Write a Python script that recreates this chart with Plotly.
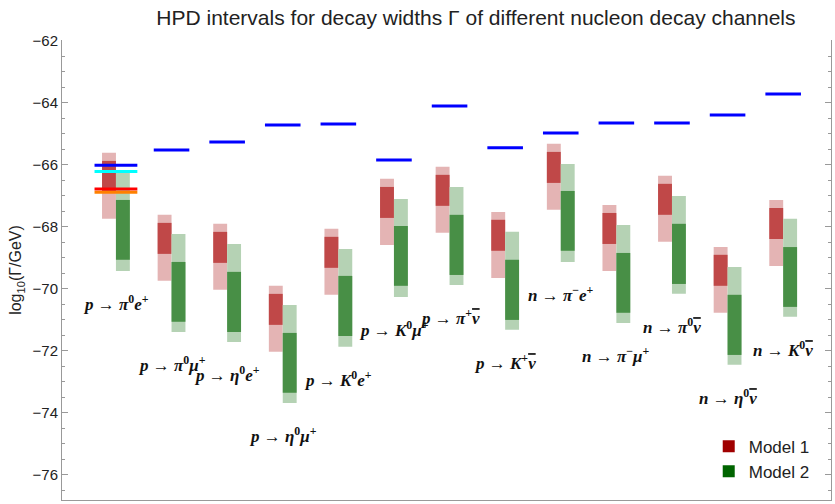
import plotly.graph_objects as go

# ---------------- data ----------------
NUBAR = "<span style='text-decoration:overline'><i>ν</i></span>"
channels = [
    "<i>p</i> → <i>π</i><sup>0</sup><i>e</i><sup>+</sup>",
    "<i>p</i> → <i>π</i><sup>0</sup><i>μ</i><sup>+</sup>",
    "<i>p</i> → <i>η</i><sup>0</sup><i>e</i><sup>+</sup>",
    "<i>p</i> → <i>η</i><sup>0</sup><i>μ</i><sup>+</sup>",
    "<i>p</i> → <i>K</i><sup>0</sup><i>e</i><sup>+</sup>",
    "<i>p</i> → <i>K</i><sup>0</sup><i>μ</i><sup>+</sup>",
    "<i>p</i> → <i>π</i><sup>+</sup>" + NUBAR,
    "<i>p</i> → <i>K</i><sup>+</sup>" + NUBAR,
    "<i>n</i> → <i>π</i><sup>−</sup><i>e</i><sup>+</sup>",
    "<i>n</i> → <i>π</i><sup>−</sup><i>μ</i><sup>+</sup>",
    "<i>n</i> → <i>π</i><sup>0</sup>" + NUBAR,
    "<i>n</i> → <i>η</i><sup>0</sup>" + NUBAR,
    "<i>n</i> → <i>K</i><sup>0</sup>" + NUBAR,
]

# Model 1 (red): outer (light) and inner (dark) HPD intervals
m1_outer_hi = [-65.61, -67.61, -67.90, -69.90, -68.06, -66.45, -66.06, -67.52, -65.32, -67.29, -66.35, -68.65, -67.13]
m1_inner_hi = [-65.87, -67.87, -68.16, -70.16, -68.32, -66.71, -66.32, -67.77, -65.58, -67.55, -66.61, -68.90, -67.39]
m1_inner_lo = [-66.87, -68.87, -69.16, -71.16, -69.32, -67.71, -67.32, -68.77, -66.58, -68.55, -67.61, -69.90, -68.39]
m1_outer_lo = [-67.74, -69.74, -70.03, -72.03, -70.19, -68.58, -68.19, -69.65, -67.45, -69.42, -68.48, -70.77, -69.26]

# Model 2 (green)
m2_outer_hi = [-66.23, -68.23, -68.55, -70.52, -68.71, -67.10, -66.71, -68.16, -65.97, -67.94, -67.00, -69.29, -67.74]
m2_inner_hi = [-67.13, -69.13, -69.45, -71.42, -69.58, -67.97, -67.61, -69.06, -66.84, -68.84, -67.90, -70.19, -68.65]
m2_inner_lo = [-69.06, -71.06, -71.39, -73.35, -71.52, -69.90, -69.55, -71.00, -68.77, -70.77, -69.84, -72.13, -70.58]
m2_outer_lo = [-69.42, -71.39, -71.71, -73.68, -71.87, -70.26, -69.87, -71.32, -69.13, -71.10, -70.16, -72.45, -70.90]

# experimental bounds (blue)
bounds = [-66.01, -65.52, -65.26, -64.71, -64.68, -65.84, -64.10, -65.45, -64.97, -64.65, -64.65, -64.39, -63.71]

# extra sensitivities for the first channel
extra_values = [-66.21, -66.78, -66.88]
extra_colors = ["#00FFFF", "#FF0000", "#FF8000"]

# ---------------- figure ----------------
xs = list(range(1, len(channels) + 1))
fig = go.Figure()

RED_L, RED_D = "#E4B4B4", "#C04848"
GRN_L, GRN_D = "#B5D2B4", "#488F46"
BW = 0.25


def add_bars(xpos, hi, lo, color):
    fig.add_trace(go.Bar(
        x=xpos, y=[h - l for h, l in zip(hi, lo)], base=lo, width=BW,
        marker=dict(color=color, line=dict(width=0)), showlegend=False,
        hoverinfo="skip"))


xr = [x - BW / 2 for x in xs]
xg = [x + BW / 2 for x in xs]
add_bars(xr, m1_outer_hi, m1_outer_lo, RED_L)
add_bars(xr, m1_inner_hi, m1_inner_lo, RED_D)
add_bars(xg, m2_outer_hi, m2_outer_lo, GRN_L)
add_bars(xg, m2_inner_hi, m2_inner_lo, GRN_D)

# blue bound segments
bx, by = [], []
for i, (x, b) in enumerate(zip(xs, bounds)):
    hw = 0.385 if i == 0 else 0.32
    bx += [x - hw, x + hw, None]
    by += [b, b, None]
fig.add_trace(go.Scatter(x=bx, y=by, mode="lines", line=dict(color="#0000FF", width=3),
                         showlegend=False, hoverinfo="skip"))

for v, c in zip(extra_values, extra_colors):
    fig.add_trace(go.Scatter(x=[xs[0] - 0.385, xs[0] + 0.385], y=[v, v], mode="lines",
                             line=dict(color=c, width=3), showlegend=False, hoverinfo="skip"))

# legend entries
fig.add_trace(go.Scatter(x=[None], y=[None], mode="markers", name="Model 1",
                         marker=dict(symbol="square", size=10, color="#A00000")))
fig.add_trace(go.Scatter(x=[None], y=[None], mode="markers", name="Model 2",
                         marker=dict(symbol="square", size=10, color="#006400")))

# channel labels
for x, lab, lo in zip(xs, channels, m2_outer_lo):
    fig.add_annotation(x=x, y=lo - 1.03, text="<b>" + lab + "</b>", showarrow=False,
                       font=dict(family="Liberation Serif", size=17, color="#111111"),
                       xanchor="center", yanchor="middle")

fig.update_layout(
    width=835, height=504,
    margin=dict(l=62, r=4, t=40, b=4),
    paper_bgcolor="white", plot_bgcolor="white",
    barmode="overlay",
    title=dict(text="HPD intervals for decay widths Γ of different nucleon decay channels",
               x=0.57, xanchor="center", y=0.965, yanchor="middle",
               font=dict(family="Liberation Sans", size=21, color="#222222")),
    font=dict(family="Liberation Sans", color="#222222"),
    legend=dict(x=0.841, y=0.155, xanchor="left", yanchor="top",
                font=dict(size=17, family="Liberation Sans"),
                bgcolor="rgba(0,0,0,0)", itemsizing="constant", itemwidth=30),
    xaxis=dict(range=[0.03, 13.86], showticklabels=False, ticks="", showgrid=False,
               zeroline=False, showline=True, linecolor="#999999", linewidth=1),
    yaxis=dict(range=[-76.81, -61.97], tickvals=list(range(-76, -61, 2)),
               ticks="inside", ticklen=6, tickcolor="#999999", showgrid=False,
               zeroline=False, showline=True, linecolor="#999999", linewidth=1,
               mirror="ticks", tickfont=dict(size=15, family="Liberation Sans"),
               title=dict(text="log<sub>10</sub>(Γ/GeV)", font=dict(size=16), standoff=6),
               minor=dict(dtick=0.5, tick0=-62, ticks="inside", ticklen=3,
                          tickcolor="#999999", showgrid=False)),
)

fig.write_html("out.html")
